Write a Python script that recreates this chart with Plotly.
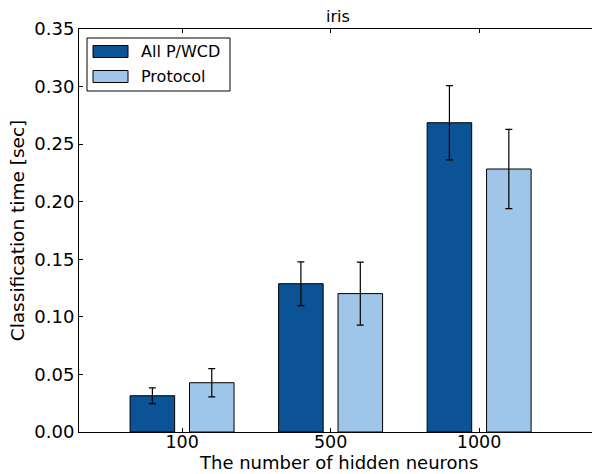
import plotly.graph_objects as go

categories = ["100", "500", "1000"]
series_names = ["All P/WCD", "Protocol"]
allpwcd_mean = [0.0315, 0.1288, 0.2686]
allpwcd_err = [0.0068, 0.0190, 0.0323]
protocol_mean = [0.0428, 0.1202, 0.2284]
protocol_err = [0.0123, 0.0274, 0.0344]
colors = ["#0b5394", "#9fc5e8"]
title_text = "iris"
x_label = "The number of hidden neurons"
y_label = "Classification time [sec]"

FONT = "DejaVu Sans"
xpos = list(range(len(categories)))

fig = go.Figure()
for name, mean, err, col, off in [
    (series_names[0], allpwcd_mean, allpwcd_err, colors[0], -0.35),
    (series_names[1], protocol_mean, protocol_err, colors[1], 0.05),
]:
    fig.add_trace(go.Bar(
        x=xpos, y=mean, name=name, width=0.3, offset=off,
        marker=dict(color=col, line=dict(color="black", width=1)),
        error_y=dict(type="data", array=err, visible=True, color="black",
                     thickness=1.2, width=3.5),
        showlegend=False,
    ))

fig.update_layout(
    width=592, height=474,
    margin=dict(l=79, r=0, t=29, b=42),
    plot_bgcolor="white", paper_bgcolor="white",
    barmode="overlay",
    font=dict(family=FONT, size=18, color="black"),
)
fig.update_xaxes(
    range=[-0.694, 2.76], tickvals=xpos, ticktext=categories,
    showline=True, linecolor="black", linewidth=1, mirror="ticks",
    ticks="inside", ticklen=4, tickcolor="black", showgrid=False, zeroline=False,
    tickfont=dict(size=17.5), ticklabelstandoff=-6,
)
fig.update_yaxes(
    range=[0, 0.35], dtick=0.05, tickformat=".2f",
    showline=True, linecolor="black", linewidth=1, mirror=False,
    ticks="inside", ticklen=4, tickcolor="black", showgrid=False, zeroline=False,
    title=dict(text=y_label, font=dict(size=18.5), standoff=4),
    tickfont=dict(size=18),
)

ph = 403.0
pw = 513.0
def px(xp):
    return (xp - 79) / pw
def py(yp):
    return (432 - yp) / ph

# x axis title
fig.add_annotation(text=x_label, xref="paper", yref="paper",
                   x=px(338), y=py(473.5), xanchor="center", yanchor="bottom",
                   borderpad=0, showarrow=False, font=dict(size=18))

# title
fig.add_annotation(text=title_text, xref="paper", yref="paper",
                   x=px(338), y=1, yanchor="bottom", xanchor="center",
                   yshift=1, showarrow=False, font=dict(size=16))

# custom legend
fig.add_shape(type="rect", xref="paper", yref="paper",
              x0=px(87), x1=px(230), y0=py(91), y1=py(38),
              line=dict(color="black", width=1), fillcolor="white", layer="above")
for i, (name, col) in enumerate(zip(series_names, colors)):
    yc = 51.5 + i * 25
    fig.add_shape(type="rect", xref="paper", yref="paper",
                  x0=px(93), x1=px(128), y0=py(yc + 6), y1=py(yc - 6),
                  line=dict(color="black", width=1), fillcolor=col, layer="above")
    fig.add_annotation(text=name, xref="paper", yref="paper",
                       x=px(139), y=py(yc), xanchor="left", yanchor="middle",
                       showarrow=False, font=dict(size=16))

fig.write_html("out.html")
